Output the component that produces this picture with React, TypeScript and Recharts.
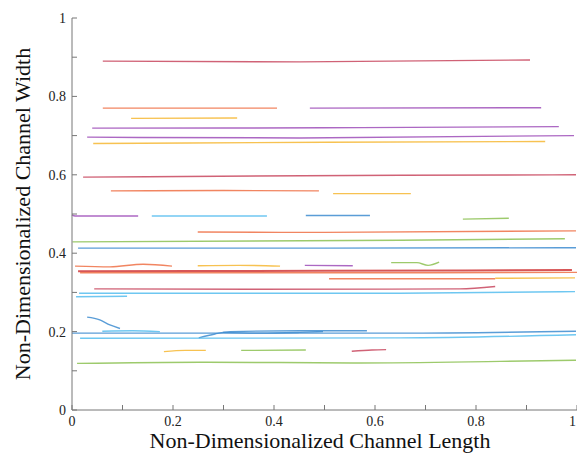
import React from "react";
import { LineChart, Line, XAxis, YAxis, Label } from "recharts";

// axis ticks (every 0.1, labelled every 0.2)
const ticks = [0, 0.1, 0.2, 0.3, 0.4, 0.5, 0.6, 0.7, 0.8, 0.9, 1];
const tickLabels = ["0", "", "0.2", "", "0.4", "", "0.6", "", "0.8", "", "1"];

// channel traces: [length, width] points
const s01 = [[0.061, 0.89], [0.451, 0.888], [0.907, 0.893]];
const s02 = [[0.061, 0.77], [0.406, 0.77]];
const s03 = [[0.471, 0.77], [0.929, 0.771]];
const s04 = [[0.117, 0.744], [0.327, 0.745]];
const s05 = [[0.04, 0.719], [0.5, 0.72], [0.964, 0.723]];
const s06 = [[0.03, 0.696], [0.451, 0.694], [0.994, 0.7]];
const s07 = [[0.042, 0.68], [0.505, 0.683], [0.937, 0.685]];
const s08 = [[0.022, 0.594], [0.65, 0.599], [0.998, 0.6]];
const s09 = [[0.077, 0.559], [0.3, 0.56], [0.489, 0.559]];
const s10 = [[0.517, 0.552], [0.671, 0.552]];
const s11 = [[0.0, 0.498], [0.006, 0.495], [0.131, 0.495]];
const s12 = [[0.158, 0.495], [0.386, 0.495]];
const s13 = [[0.463, 0.496], [0.59, 0.496]];
const s14 = [[0.774, 0.487], [0.865, 0.489]];
const s15 = [[0.249, 0.454], [0.5, 0.453], [0.998, 0.457]];
const s16 = [[0.001, 0.429], [0.65, 0.433], [0.976, 0.437]];
const s17 = [[0.012, 0.413], [0.5, 0.413], [0.998, 0.414]];
const s18 = [[0.006, 0.367], [0.075, 0.365], [0.141, 0.372], [0.198, 0.367]];
const s19 = [[0.249, 0.368], [0.33, 0.369], [0.412, 0.367]];
const s20 = [[0.461, 0.369], [0.556, 0.368]];
const s21 = [[0.632, 0.376], [0.683, 0.376], [0.705, 0.369], [0.727, 0.377]];
const s22 = [[0.012, 0.354], [0.5, 0.355], [0.99, 0.357]];
const s23 = [[0.016, 0.35], [0.5, 0.35], [1.0, 0.351]];
const s24 = [[0.509, 0.335], [0.838, 0.335]];
const s25 = [[0.838, 0.336], [0.996, 0.337]];
const s26 = [[0.044, 0.309], [0.35, 0.308], [0.768, 0.309], [0.838, 0.315]];
const s27 = [[0.014, 0.298], [0.65, 0.298], [0.996, 0.302]];
const s28 = [[0.008, 0.289], [0.109, 0.29]];
const s29 = [[0.03, 0.237], [0.055, 0.23], [0.075, 0.217], [0.095, 0.208]];
const s30 = [[0.06, 0.201], [0.12, 0.202], [0.174, 0.2]];
const s31 = [[0.0, 0.196], [0.65, 0.196], [0.998, 0.201]];
const s32 = [[0.251, 0.184], [0.283, 0.194], [0.313, 0.2], [0.451, 0.202], [0.584, 0.202]];
const s33 = [[0.299, 0.198], [0.372, 0.196], [0.451, 0.198], [0.497, 0.2]];
const s34 = [[0.016, 0.183], [0.65, 0.184], [0.998, 0.192]];
const s35 = [[0.182, 0.149], [0.224, 0.152], [0.265, 0.152]];
const s36 = [[0.335, 0.152], [0.463, 0.153]];
const s37 = [[0.554, 0.15], [0.594, 0.153], [0.622, 0.154]];
const s38 = [[0.01, 0.119], [0.253, 0.122], [0.57, 0.12], [0.848, 0.124], [0.998, 0.127]];

const segments = [
  s01, s02, s03, s04, s05, s06, s07, s08, s09, s10,
  s11, s12, s13, s14, s15, s16, s17, s18, s19, s20,
  s21, s22, s23, s24, s25, s26, s27, s28, s29, s30,
  s31, s32, s33, s34, s35, s36, s37, s38,
];

const CRIMSON = "#c8475e";
const ORANGE = "#ef7045";
const PURPLE = "#9e4db8";
const YELLOW = "#f6b732";
const LBLUE = "#55bdef";
const BLUE = "#3d8cd0";
const GREEN = "#8cc152";
const RED = "#d0383a";

const colors = [
  CRIMSON, ORANGE, PURPLE, YELLOW, PURPLE, PURPLE, YELLOW, CRIMSON, ORANGE, YELLOW,
  PURPLE, LBLUE, BLUE, GREEN, ORANGE, GREEN, BLUE, ORANGE, YELLOW, PURPLE,
  GREEN, RED, ORANGE, ORANGE, YELLOW, CRIMSON, LBLUE, LBLUE, BLUE, LBLUE,
  BLUE, BLUE, BLUE, LBLUE, YELLOW, GREEN, CRIMSON, GREEN,
];

const W = 577;
const H = 457;
const LEFT = 72;
const BOTTOM = 410;
const AXIS = "#777";
const FONT = "'Liberation Serif', 'Times New Roman', serif";

const label = (v: number) => tickLabels[ticks.indexOf(v)] ?? "";

const YTick = (props: any) => {
  const { y, payload } = props;
  return (
    <g>
      <line x1={LEFT} x2={LEFT + 5} y1={y} y2={y} stroke={AXIS} />
      <text x={LEFT - 6} y={y} dy="0.35em" textAnchor="end" fontSize={14} fontFamily={FONT} fill="#222">
        {label(payload.value)}
      </text>
    </g>
  );
};

const XTick = (props: any) => {
  const { x, payload } = props;
  // the last label sits on the right edge; keep it inside the picture
  const atEdge = x > W - 4;
  return (
    <g>
      <line x1={x} x2={x} y1={BOTTOM} y2={BOTTOM - 5} stroke={AXIS} />
      <text
        x={atEdge ? W - 1 : x}
        y={426}
        textAnchor={atEdge ? "end" : "middle"}
        fontSize={14}
        fontFamily={FONT}
        fill="#222"
      >
        {label(payload.value)}
      </text>
    </g>
  );
};

export default function App() {
  return (
    <div style={{ position: "absolute", left: 0, top: 0, background: "#fff" }}>
      <LineChart width={W} height={H} margin={{ top: 18, right: 0, bottom: 0, left: 0 }}>
        <XAxis
          type="number"
          dataKey="x"
          domain={[0, 1]}
          ticks={ticks}
          interval={0}
          height={47}
          tickLine={false}
          axisLine={{ stroke: AXIS }}
          tick={<XTick />}
        >
          <Label
            content={() => (
              <text x={320} y={448} textAnchor="middle" fontSize={22} fontFamily={FONT} fill="#111">
                Non-Dimensionalized Channel Length
              </text>
            )}
          />
        </XAxis>
        <YAxis
          type="number"
          domain={[0, 1]}
          ticks={ticks}
          interval={0}
          width={LEFT}
          tickLine={false}
          axisLine={{ stroke: AXIS }}
          tick={<YTick />}
        >
          <Label
            content={() => (
              <text
                x={30}
                y={214}
                transform="rotate(-90 30 214)"
                textAnchor="middle"
                fontSize={22}
                fontFamily={FONT}
                fill="#111"
              >
                Non-Dimensionalized Channel Width
              </text>
            )}
          />
        </YAxis>
        {segments.map((seg, i) => (
          <Line
            key={i}
            data={seg.map(([x, y]) => ({ x, y }))}
            dataKey="y"
            type="monotone"
            stroke={colors[i]}
            strokeWidth={colors[i] === RED ? 2 : 1.4}
            strokeOpacity={0.85}
            dot={false}
            activeDot={false}
            isAnimationActive={false}
          />
        ))}
      </LineChart>
    </div>
  );
}
